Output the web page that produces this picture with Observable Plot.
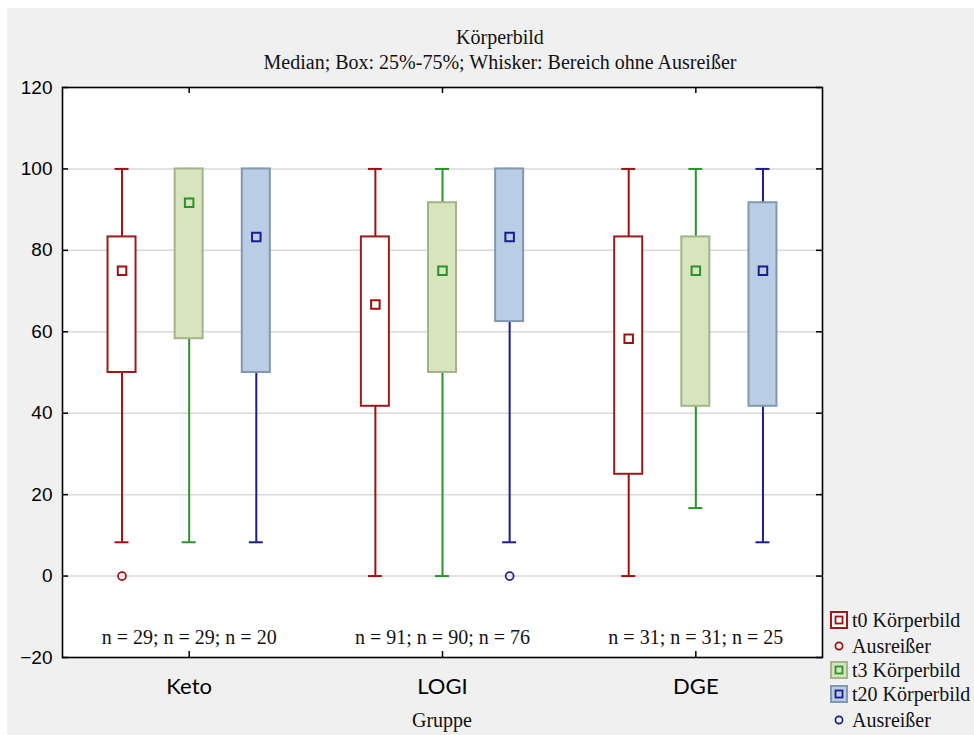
<!DOCTYPE html>
<html>
<head>
<meta charset="utf-8">
<script src="https://cdn.jsdelivr.net/npm/d3@7"></script>
<script src="https://cdn.jsdelivr.net/npm/@observablehq/plot@0.6"></script>
<style>
  html, body { margin: 0; padding: 0; background: #ffffff; }
  #page { position: relative; width: 974px; height: 735px; overflow: hidden; }
  #panel { position: absolute; left: 7px; top: 8px; width: 967px; height: 727px; background: #f0f0f0; }
  .serif { font-family: "Liberation Serif", "Times New Roman", serif; color: #111; }
  .title { position: absolute; left: 200px; width: 600px; text-align: center; font-size: 20px; line-height: 22px; white-space: nowrap; }
  #chart { position: absolute; left: 0; top: 70px; }
  #legend { position: absolute; left: 830px; top: 608px; }
  .lrow { position: absolute; left: 0; height: 24px; display: flex; align-items: center; white-space: nowrap; font-size: 20px; }
  .lrow svg { margin-right: 4px; }
</style>
</head>
<body>
<div id="page">
  <div id="panel"></div>
  <div class="title serif" style="top:26px">Körperbild</div>
  <div class="title serif" style="top:51px">Median; Box: 25%-75%; Whisker: Bereich ohne Ausreißer</div>
  <div id="chart"></div>
  <div class="title serif" style="top:709px; left:142px;">Gruppe</div>
  <div id="legend" class="serif"></div>
</div>
<script>
// ---- Data ----
const groups = ["Keto", "LOGI", "DGE"];
const seriesNames = ["t0 Körperbild", "t3 Körperbild", "t20 Körperbild"];

const t0Min    = [8.3, 0, 0];
const t0Q1     = [50, 41.7, 25];
const t0Median = [75, 66.7, 58.3];
const t0Q3     = [83.3, 83.3, 83.3];
const t0Max    = [100, 100, 100];

const t3Min    = [8.3, 0, 16.7];
const t3Q1     = [58.3, 50, 41.7];
const t3Median = [91.7, 75, 75];
const t3Q3     = [100, 91.7, 83.3];
const t3Max    = [100, 100, 100];

const t20Min    = [8.3, 8.3, 8.3];
const t20Q1     = [50, 62.5, 41.7];
const t20Median = [83.3, 83.3, 75];
const t20Q3     = [100, 100, 91.7];
const t20Max    = [100, 100, 100];

// outliers
const outlierGroup  = ["Keto", "LOGI"];
const outlierSeries = ["t0 Körperbild", "t20 Körperbild"];
const outlierValue  = [0, 0];

const nT0  = [29, 91, 31];
const nT3  = [29, 90, 31];
const nT20 = [20, 76, 25];

const yTicks = [-20, 0, 20, 40, 60, 80, 100, 120];
const gridTicks = [0, 20, 40, 60, 80, 100];

// ---- Styles / layout ----
const style = {
  "t0 Körperbild":  {fill: "#ffffff", boxStroke: "#9e1a1a", line: "#a01010"},
  "t3 Körperbild":  {fill: "#d7e4bd", boxStroke: "#a3b48a", line: "#2a922a"},
  "t20 Körperbild": {fill: "#b9cde5", boxStroke: "#8197b3", line: "#1c1c8e"}
};
const SPACING = 0.265;
const BOX_HALF = 0.0553;
const CAP_HALF = 0.0276;
const N_LABEL_Y = -15;

const stats = [
  [t0Min, t0Q1, t0Median, t0Q3, t0Max],
  [t3Min, t3Q1, t3Median, t3Q3, t3Max],
  [t20Min, t20Q1, t20Median, t20Q3, t20Max]
];
const rows = [];
seriesNames.forEach((s, si) => {
  groups.forEach((g, gi) => {
    const [mn, q1, md, q3, mx] = stats[si].map(a => a[gi]);
    rows.push({group: g, series: s, xc: gi + (si - 1) * SPACING, min: mn, q1, median: md, q3, max: mx});
  });
});
const outliers = outlierGroup.map((g, i) => {
  const gi = groups.indexOf(g), si = seriesNames.indexOf(outlierSeries[i]);
  return {group: g, series: outlierSeries[i], xc: gi + (si - 1) * SPACING, value: outlierValue[i]};
});
const nLabels = groups.map((g, gi) => ({gi, text: `n = ${nT0[gi]}; n = ${nT3[gi]}; n = ${nT20[gi]}`}));

const lineColor = d => style[d.series].line;

const plot = Plot.plot({
  width: 974,
  height: 665,
  marginLeft: 62,
  marginRight: 152,
  marginTop: 17,
  marginBottom: 78,
  style: {background: "transparent", overflow: "visible"},
  x: {type: "linear", domain: [-0.5, 2.5]},
  y: {domain: [-20, 120], nice: false},
  marks: [
    Plot.frame({fill: "#ffffff", stroke: null}),
    Plot.ruleY(gridTicks, {y: d => d, stroke: "#d9d9d9", strokeWidth: 1.5}),
    Plot.ruleX(rows, {x: "xc", y1: "min", y2: "q1", stroke: lineColor, strokeWidth: 2}),
    Plot.ruleX(rows, {x: "xc", y1: "q3", y2: "max", stroke: lineColor, strokeWidth: 2}),
    Plot.ruleY(rows, {y: "min", x1: d => d.xc - CAP_HALF, x2: d => d.xc + CAP_HALF, stroke: lineColor, strokeWidth: 2}),
    Plot.ruleY(rows, {y: "max", x1: d => d.xc - CAP_HALF, x2: d => d.xc + CAP_HALF, stroke: lineColor, strokeWidth: 2}),
    Plot.rect(rows, {
      x1: d => d.xc - BOX_HALF, x2: d => d.xc + BOX_HALF, y1: "q1", y2: "q3",
      fill: d => style[d.series].fill, stroke: d => style[d.series].boxStroke, strokeWidth: 2
    }),
    Plot.dot(rows, {x: "xc", y: "median", symbol: "square", r: 4.8, fill: "none", stroke: lineColor, strokeWidth: 2}),
    Plot.dot(outliers, {x: "xc", y: "value", r: 4, fill: "none", stroke: d => style[d.series].line, strokeWidth: 1.7}),
    Plot.text(nLabels, {x: "gi", y: () => N_LABEL_Y, text: "text", fontFamily: "Liberation Serif", fontSize: 20, fill: "#111"}),
    Plot.frame({stroke: "#000", strokeWidth: 1.6}),
    Plot.tickY(yTicks, {y: d => d, insetRight: 754, stroke: "#000", strokeWidth: 1.5}),
    Plot.tickY(yTicks, {y: d => d, insetLeft: 754, stroke: "#000", strokeWidth: 1.5}),
    Plot.tickX([0, 1, 2], {x: d => d, insetTop: 564, stroke: "#000", strokeWidth: 1.5}),
    Plot.tickX([0, 1, 2], {x: d => d, insetBottom: 564, stroke: "#000", strokeWidth: 1.5}),
    Plot.axisY(yTicks, {tickSize: 0, tickPadding: 10, fontSize: 19, fontFamily: "Liberation Sans", fill: "#000", label: null}),
    Plot.axisX([0, 1, 2], {tickSize: 0, tickPadding: 21, tickFormat: i => groups[i], fontSize: 22, fontFamily: "Lato", fill: "#000", label: null})
  ]
});
document.getElementById("chart").appendChild(plot);

// ---- Legend ----
const legendItems = [
  {type: "box", series: "t0 Körperbild", label: "t0 Körperbild", top: 0},
  {type: "out", series: "t0 Körperbild", label: "Ausreißer", top: 26},
  {type: "box", series: "t3 Körperbild", label: "t3 Körperbild", top: 50},
  {type: "box", series: "t20 Körperbild", label: "t20 Körperbild", top: 74},
  {type: "out", series: "t20 Körperbild", label: "Ausreißer", top: 100}
];
const legend = document.getElementById("legend");
legendItems.forEach(it => {
  const s = style[it.series];
  const row = document.createElement("div");
  row.className = "lrow";
  row.style.top = it.top + "px";
  const svg = it.type === "box"
    ? `<svg width="18" height="18"><rect x="1" y="1" width="16" height="16" fill="${s.fill}" stroke="${s.boxStroke}" stroke-width="2"/><rect x="5.5" y="5.5" width="7" height="7" fill="none" stroke="${s.line}" stroke-width="1.8"/></svg>`
    : `<svg width="18" height="18"><circle cx="9" cy="9" r="3.6" fill="none" stroke="${s.line}" stroke-width="1.7"/></svg>`;
  row.innerHTML = svg + `<span>${it.label}</span>`;
  legend.appendChild(row);
});
</script>
</body>
</html>
